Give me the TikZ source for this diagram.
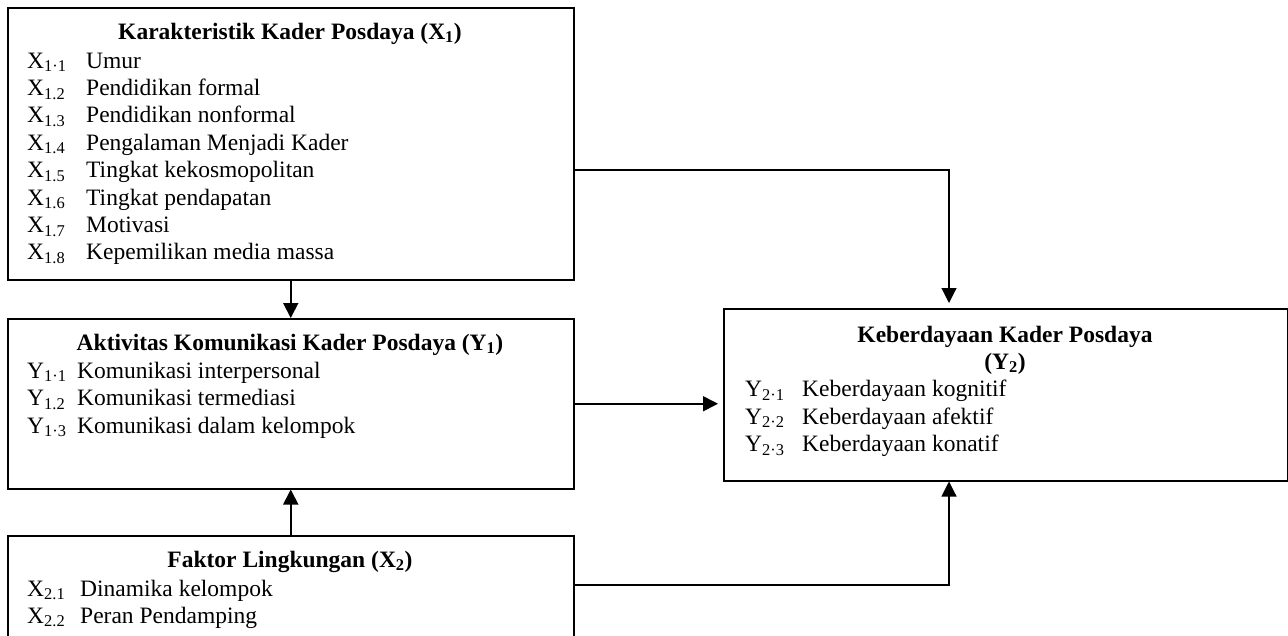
\documentclass[tikz,border=0pt]{standalone}
\usepackage{fontspec}
\setmainfont{Liberation Serif}
\usetikzlibrary{arrows.meta}
\newcommand{\sbx}[1]{\textsubscript{#1}}
\begin{document}
\begin{tikzpicture}[x=1pt,y=-1pt,
  box/.style={draw, line width=1.5pt, rectangle, inner sep=0pt, anchor=north west},
  txt/.style={inner sep=0pt, anchor=base west, font=\fontsize{23.5}{27}\selectfont},
  ttl/.style={inner sep=0pt, anchor=base, font=\fontsize{23.5}{27}\selectfont\bfseries},
  arr/.style={line width=1.9pt, -{Triangle[length=15pt,width=15pt]}},
  elb/.style={line width=1.1pt, -{Triangle[length=15pt,width=15pt]}}]
\useasboundingbox (0,0) rectangle (1288,635);
\clip (0,0) rectangle (1288,635);
\fill[white] (0,0) rectangle (1288,635);

% boxes
\node[box, minimum width=566pt, minimum height=272pt] (x1) at (7,7) {};
\node[box, minimum width=566pt, minimum height=170pt] (y1) at (7,318) {};
\node[box, minimum width=566pt, minimum height=150pt] (x2) at (7,535) {};
\node[box, minimum width=564pt, minimum height=172pt] (y2) at (723,308) {};

% X1 text
\node[ttl] (x1t) at (290,39) {Karakteristik Kader Posdaya (X\sbx{1})};
\node[txt] (x1a) at (27,68) {X\sbx{1·1}};   \node[txt] (x1at) at (86,68) {Umur};
\node[txt] (x1b) at (27,95.4) {X\sbx{1.2}}; \node[txt] (x1bt) at (86,95.4) {Pendidikan formal};
\node[txt] (x1c) at (27,122.8) {X\sbx{1.3}}; \node[txt] (x1ct) at (86,122.8) {Pendidikan nonformal};
\node[txt] (x1d) at (27,150.2) {X\sbx{1.4}}; \node[txt] (x1dt) at (86,150.2) {Pengalaman Menjadi Kader};
\node[txt] (x1e) at (27,177.6) {X\sbx{1.5}}; \node[txt] (x1et) at (86,177.6) {Tingkat kekosmopolitan};
\node[txt] (x1f) at (27,205) {X\sbx{1.6}}; \node[txt] (x1ft) at (86,205) {Tingkat pendapatan};
\node[txt] (x1g) at (27,232.4) {X\sbx{1.7}}; \node[txt] (x1gt) at (86,232.4) {Motivasi};
\node[txt] (x1h) at (27,259.8) {X\sbx{1.8}}; \node[txt] (x1ht) at (86,259.8) {Kepemilikan media massa};

% Y1 text
\node[ttl] (y1t) at (290,350) {Aktivitas Komunikasi Kader Posdaya (Y\sbx{1})};
\node[txt] (y1a) at (27,378) {Y\sbx{1·1}}; \node[txt] (y1at) at (77,378) {Komunikasi interpersonal};
\node[txt] (y1b) at (27,405.5) {Y\sbx{1.2}}; \node[txt] (y1bt) at (77,405.5) {Komunikasi termediasi};
\node[txt] (y1c) at (27,433) {Y\sbx{1·3}}; \node[txt] (y1ct) at (77,433) {Komunikasi dalam kelompok};

% X2 text
\node[ttl] (x2t) at (290,567) {Faktor Lingkungan (X\sbx{2})};
\node[txt] (x2a) at (27,596) {X\sbx{2.1}}; \node[txt] (x2at) at (80,596) {Dinamika kelompok};
\node[txt] (x2b) at (27,623) {X\sbx{2.2}}; \node[txt] (x2bt) at (80,623) {Peran Pendamping};

% Y2 text
\node[ttl] (y2t) at (1005,342) {Keberdayaan Kader Posdaya};
\node[ttl] (y2u) at (1005,369) {(Y\sbx{2})};
\node[txt] (y2a) at (745,396.5) {Y\sbx{2·1}}; \node[txt] (y2at) at (802,396.5) {Keberdayaan kognitif};
\node[txt] (y2b) at (745,424) {Y\sbx{2·2}}; \node[txt] (y2bt) at (802,424) {Keberdayaan afektif};
\node[txt] (y2c) at (745,451.5) {Y\sbx{2·3}}; \node[txt] (y2ct) at (802,451.5) {Keberdayaan konatif};

% connectors
\coordinate (c1) at (949,170);
\coordinate (c2) at (949,585);
\draw[arr] (x1.south) -- (y1.north);
\draw[arr] (x2.north) -- (y1.south);
\draw[arr, line width=1.6pt, shorten >=5pt] (y1.east) -- (y1.east -| y2.west);
\draw[elb, shorten >=5pt] (x1.east |- c1) -| (y2.north -| c1);
\draw[elb] (x2.east |- c2) -| (y2.south -| c2);
\end{tikzpicture}
\end{document}
